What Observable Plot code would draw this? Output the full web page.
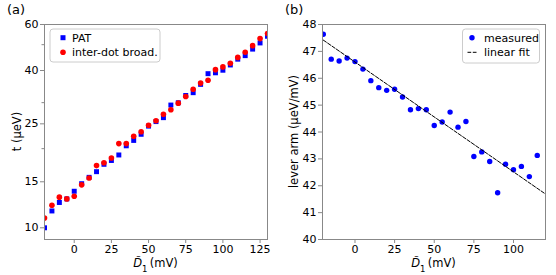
<!DOCTYPE html>
<html><head><meta charset="utf-8">
<script src="https://cdn.jsdelivr.net/npm/d3@7"></script>
<script src="https://cdn.jsdelivr.net/npm/@observablehq/plot@0.6"></script>
<style>
body{margin:0;background:#fff;}
#wrap{display:flex;width:556px;height:275px;}
svg{font-family:"DejaVu Sans",sans-serif;}
[aria-label$="-axis tick"]{stroke:#888;}
[aria-label="x-axis"] .tick line,[aria-label="y-axis"] .tick line{stroke:#888;}
</style></head><body><div id="wrap"></div>
<script>
// ---- panel (a) data ----
const detuningA = [-20,-15,-10,-5,0,5,10,15,20,25,30,35,40,45,50,55,60,65,70,75,80,85,90,95,100,105,110,115,120,125,130];
const tPAT      = [10.0,11.6,12.5,12.9,13.8,14.75,15.6,16.4,17.5,18.1,19.0,20.6,21.6,22.8,24.5,25.5,26.4,29.5,30.1,32.1,32.9,35.4,38.9,39.2,40.1,42.0,44.2,45.6,48.3,51.0,54.1];
const tInterdot = [10.9,12.2,13.1,12.9,13.2,14.6,15.5,17.3,17.75,18.5,21.0,21.0,22.4,23.3,24.7,25.7,27.2,28.3,30.0,31.8,33.9,35.8,36.7,40.3,41.3,42.6,44.9,47.0,49.8,53.0,55.4];
const ticksXA = [0,25,50,75,100,125];
const ticksYA = [10,15,25,40,60];
const minorYA = [20,30,50];
const seriesA = ["PAT","inter-dot broad."];

// ---- panel (b) data ----
const detuningB = [-20,-15,-10,-5,0,5,10,15,20,25,30,35,40,45,50,55,60,65,70,75,80,85,90,95,100,105,110,115];
const leverArm  = [47.64,46.71,46.64,46.75,46.62,46.34,45.91,45.65,45.55,45.59,45.30,44.83,44.87,44.83,44.24,44.37,44.74,44.18,44.39,43.09,43.26,42.90,41.74,42.80,42.60,42.72,42.34,43.13];
const fitX = [-20,120];
const fitY = [47.42,41.70];
const ticksXB = [0,25,50,75,100];
const ticksYB = [40,41,42,43,44,45,46,47,48];
const seriesB = ["measured","linear fit"];

const W=278,H=275,ML=44,MR=11,MT=24,MB=36;
const style = {fontFamily:"DejaVu Sans",fontSize:"11px",color:"black",background:"white",overflow:"visible"};
const ns="http://www.w3.org/2000/svg";

const dataA = detuningA.map((d,i)=>({d, pat:tPAT[i], idb:tInterdot[i]}));
const dataB = detuningB.map((d,i)=>({d, v:leverArm[i]}));
const fitData = fitX.map((x,i)=>({x, y:fitY[i]}));

const pA = Plot.plot({
  width:W,height:H,marginLeft:ML,marginRight:MR,marginTop:MT,marginBottom:MB,style,
  x:{domain:[-20,130],ticks:ticksXA,tickSize:4,tickPadding:2,label:null},
  y:{type:"log",domain:[9.02,60],ticks:ticksYA,tickFormat:d=>String(d),tickSize:4,tickPadding:2,label:null},
  marks:[
    Plot.dot(dataA,{x:"d",y:"pat",symbol:"square",r:2.8,fill:"#0000ff",clip:true}),
    Plot.dot(dataA,{x:"d",y:"idb",r:2.8,fill:"#ff0000",clip:true}),
    Plot.frame({stroke:"#888"})
  ]
});

const pB = Plot.plot({
  width:W,height:H,marginLeft:ML,marginRight:MR,marginTop:MT,marginBottom:MB,style,
  x:{domain:[-20.5,120.2],ticks:ticksXB,tickSize:4,tickPadding:2,label:null},
  y:{domain:[40,48],ticks:ticksYB,tickSize:4,tickPadding:2,label:null},
  marks:[
    Plot.dot(dataB,{x:"d",y:"v",r:2.7,fill:"#0000ff",clip:true}),
    Plot.line(fitData,{x:"x",y:"y",stroke:"black",strokeWidth:1,strokeDasharray:"3.7,1.6",clip:true}),
    Plot.frame({stroke:"#888"})
  ]
});

function el(parent,tag,attrs,text){
  const e=document.createElementNS(ns,tag);
  for(const k in attrs) e.setAttribute(k,attrs[k]);
  if(text!=null) e.textContent=text;
  parent.appendChild(e); return e;
}
function decorate(svg,title,ylabel,ylabelX){
  const g=el(svg,"g",{"font-family":"DejaVu Sans",fill:"black","text-anchor":"start"});
  el(g,"text",{x:7,y:14,"font-size":13},title);
  el(g,"text",{transform:`translate(${ylabelX},${MT+(H-MT-MB)/2}) rotate(-90)`,"text-anchor":"middle",dy:"0.35em","font-size":11.5},ylabel);
  const xl=el(g,"text",{x:ML+(W-ML-MR)/2,y:267,"text-anchor":"middle","font-size":11.5});
  el(xl,"tspan",{"font-style":"italic"},"D\u0303");
  el(xl,"tspan",{"baseline-shift":"sub","font-size":"8.5"},"1");
  el(xl,"tspan",{},"\u2009(mV)");
  return g;
}
// minor log ticks (a)
const ys=pA.scale("y");
for(const v of minorYA){
  const yy=ys.apply(v);
  el(pA,"line",{x1:ML-2.5,x2:ML,y1:yy,y2:yy,stroke:"#888"});
}
decorate(pA,"(a)","t (\u00b5eV)",17);
decorate(pB,"(b)","lever arm (\u00b5eV/mV)",16);

// legend (a)
{
  const g=el(pA,"g",{"font-family":"DejaVu Sans","font-size":11,"text-anchor":"start",fill:"black"});
  el(g,"rect",{x:50,y:29,width:110,height:33,rx:3,fill:"white","fill-opacity":0.85,stroke:"#ccc"});
  el(g,"rect",{x:60.5,y:35.2,width:5,height:5,fill:"#0000ff"});
  el(g,"circle",{cx:63,cy:52.3,r:2.8,fill:"#ff0000"});
  el(g,"text",{x:72,y:41.5},seriesA[0]);
  el(g,"text",{x:72,y:56},seriesA[1]);
}
// legend (b)
{
  const g=el(pB,"g",{"font-family":"DejaVu Sans","font-size":11,"text-anchor":"start",fill:"black"});
  el(g,"rect",{x:184.5,y:29,width:77,height:34,rx:3,fill:"white","fill-opacity":0.85,stroke:"#ccc"});
  el(g,"circle",{cx:194,cy:37.7,r:2.7,fill:"#0000ff"});
  el(g,"line",{x1:189.5,x2:198.5,y1:52.3,y2:52.3,stroke:"black","stroke-width":1,"stroke-dasharray":"3.7,1.6"});
  el(g,"text",{x:206,y:41.5},seriesB[0]);
  el(g,"text",{x:206,y:56},seriesB[1]);
}
document.getElementById("wrap").append(pA,pB);
</script></body></html>
